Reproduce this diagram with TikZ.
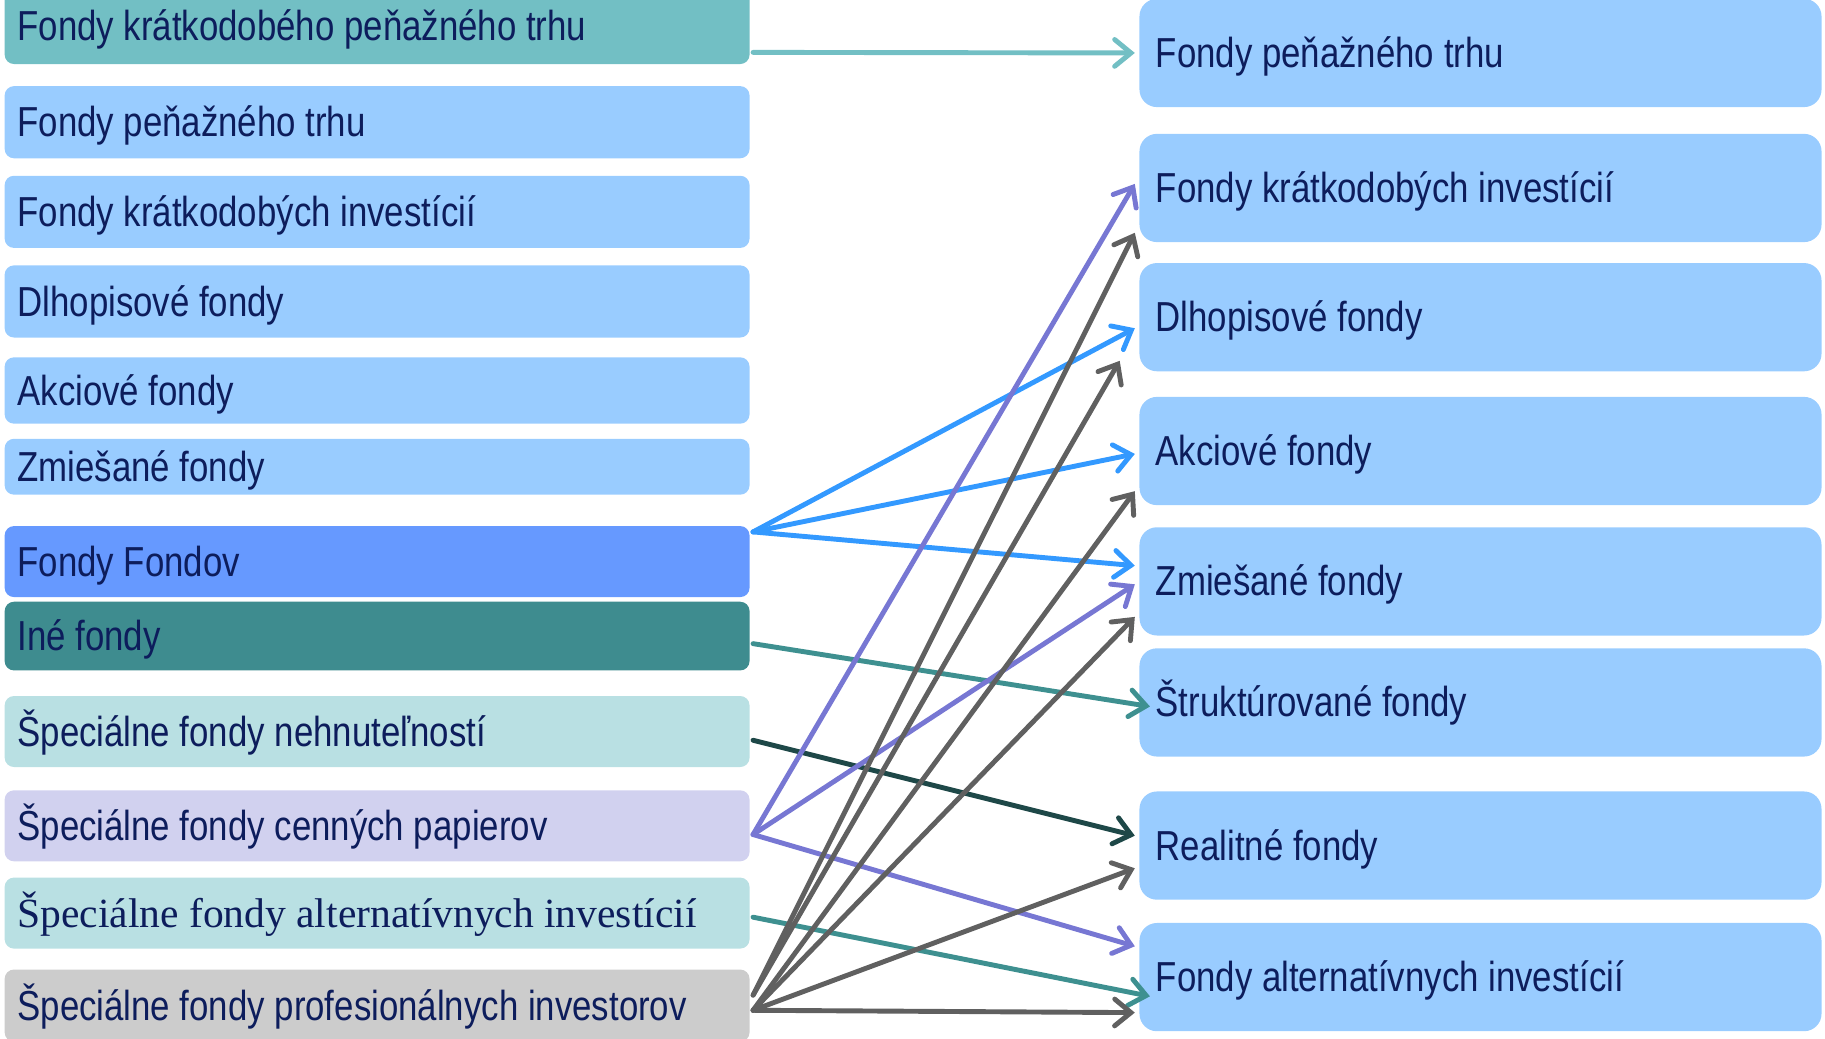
\documentclass[tikz,border=0pt]{standalone}
\usepackage{fontspec}
\setmainfont{Liberation Sans}[FakeStretch=0.83]
\newfontfamily\altSerif{Liberation Serif}
\usepackage{tikz}
\usetikzlibrary{arrows.meta, positioning}

\definecolor{navyText}{HTML}{0D1D5C}
\definecolor{tealLight}{HTML}{72BFC4}
\definecolor{skyBox}{HTML}{99CCFF}
\definecolor{fofBox}{HTML}{6699FF}
\definecolor{tealDark}{HTML}{3E8C8F}
\definecolor{mintBox}{HTML}{B9E0E3}
\definecolor{lilacBox}{HTML}{D1D1EF}
\definecolor{greyBox}{HTML}{CCCCCC}
\definecolor{blueLine}{HTML}{3399FF}
\definecolor{tealLine}{HTML}{3E9090}
\definecolor{slateLine}{HTML}{1E4848}
\definecolor{purpleLine}{HTML}{7777D3}
\definecolor{greyLine}{HTML}{606060}

\newcommand{\boxFont}{\fontsize{20.5pt}{24pt}\selectfont}
\newcommand{\serifText}{\altSerif\fontsize{20.3pt}{24pt}\selectfont}

\tikzstyle{recNode} = [rectangle, minimum height=1.24cm, text width=12.36cm, inner xsep=0.22cm, inner ysep=0pt, outer sep=0pt, text height=0.6cm, text depth=0.1cm, align=flush left, rounded corners=0.16cm, text=navyText, font=\boxFont]
\tikzstyle{recNodeS} = [recNode, fill=skyBox]
\tikzstyle{recNodeT} = [recNode, fill=tealLight]
\tikzstyle{recNodeF} = [recNode, fill=fofBox]
\tikzstyle{recNodeD} = [recNode, fill=tealDark]
\tikzstyle{recNodeM} = [recNode, fill=mintBox]
\tikzstyle{recNodeL} = [recNode, fill=lilacBox]
\tikzstyle{recNodeG} = [recNode, fill=greyBox]
\tikzstyle{outNode} = [recNode, fill=skyBox, minimum height=1.86cm, text width=11.16cm, inner xsep=0.28cm, rounded corners=0.3cm]
\tikzstyle{arrow} = [line width=2.4pt, line cap=round, -{Straight Barb[length=0.28cm, width=0.46cm, line cap=round]}]
\tikzstyle{arrowT} = [arrow, draw=tealLight]
\tikzstyle{arrowB} = [arrow, draw=blueLine]
\tikzstyle{arrowD} = [arrow, draw=tealLine]
\tikzstyle{arrowS} = [arrow, draw=slateLine]
\tikzstyle{arrowP} = [arrow, draw=purpleLine]
\tikzstyle{arrowG} = [arrow, draw=greyLine]

\begin{document}
\begin{tikzpicture}[x=1cm, y=1cm]
    \useasboundingbox (0,0) rectangle (31.36,-17.84);

    % left column
    \node (mmShort) [recNodeT, minimum height=1.30cm] at (6.48,-0.45) {Fondy krátkodobého peňažného trhu};
    \node (mm) [recNodeS, below=0.38cm of mmShort] {Fondy peňažného trhu};
    \node (shortInv) [recNodeS, below=0.30cm of mm] {Fondy krátkodobých investícií};
    \node (bond) [recNodeS, below=0.30cm of shortInv] {Dlhopisové fondy};
    \node (equity) [recNodeS, below=0.34cm of bond, minimum height=1.14cm] {Akciové fondy};
    \node (mixed) [recNodeS, below=0.26cm of equity, minimum height=0.96cm] {Zmiešané fondy};
    \node (fof) [recNodeF, below=0.54cm of mixed, minimum height=1.22cm] {Fondy Fondov};
    \node (other) [recNodeD, below=0.08cm of fof, minimum height=1.18cm] {Iné fondy};
    \node (spRe) [recNodeM, below=0.44cm of other, minimum height=1.22cm] {Špeciálne fondy nehnuteľností};
    \node (spSec) [recNodeL, below=0.40cm of spRe, minimum height=1.22cm] {Špeciálne fondy cenných papierov};
    \node (spAlt) [recNodeM, below=0.28cm of spSec, minimum height=1.22cm, font=\serifText] {Špeciálne fondy alternatívnych investícií};
    \node (spPro) [recNodeG, below=0.36cm of spAlt] {Špeciálne fondy profesionálnych investorov};

    % right column
    \node (outMm) [outNode] at (25.44,-0.91) {Fondy peňažného trhu};
    \node (outShort) [outNode, below=0.46cm of outMm] {Fondy krátkodobých investícií};
    \node (outBond) [outNode, below=0.36cm of outShort] {Dlhopisové fondy};
    \node (outEquity) [outNode, below=0.44cm of outBond] {Akciové fondy};
    \node (outMixed) [outNode, below=0.38cm of outEquity] {Zmiešané fondy};
    \node (outStruct) [outNode, below=0.22cm of outMixed] {Štruktúrované fondy};
    \node (outReal) [outNode, below=0.60cm of outStruct] {Realitné fondy};
    \node (outAlt) [outNode, below=0.40cm of outReal] {Fondy alternatívnych investícií};

    \draw [arrowT] ([xshift=0.06cm, yshift=-0.45cm]mmShort.east) -- ([xshift=-0.08cm]outMm.west);

    \draw [arrowB] ([xshift=0.06cm, yshift=0.51cm]fof.east) -- ([xshift=-0.08cm, yshift=-0.19cm]outBond.west);
    \draw [arrowB] ([xshift=0.06cm, yshift=0.51cm]fof.east) -- ([xshift=-0.08cm, yshift=-0.05cm]outEquity.west);
    \draw [arrowB] ([xshift=0.06cm, yshift=0.51cm]fof.east) -- ([xshift=-0.08cm, yshift=0.27cm]outMixed.west);

    \draw [arrowD] ([xshift=0.06cm, yshift=-0.13cm]other.east) -- ([xshift=0.18cm, yshift=-0.07cm]outStruct.west);
    \draw [arrowS] ([xshift=0.06cm, yshift=-0.15cm]spRe.east) -- ([xshift=-0.08cm, yshift=0.17cm]outReal.west);

    \draw [arrowP] ([xshift=0.06cm, yshift=-0.15cm]spSec.east) -- ([xshift=-0.08cm, yshift=0.07cm]outShort.west);
    \draw [arrowP] ([xshift=0.06cm, yshift=-0.15cm]spSec.east) -- ([xshift=-0.08cm, yshift=-0.05cm]outMixed.west);
    \draw [arrowP] ([xshift=0.06cm, yshift=-0.15cm]spSec.east) -- ([xshift=-0.08cm, yshift=0.53cm]outAlt.west);

    \draw [arrowD] ([xshift=0.06cm, yshift=-0.07cm]spAlt.east) -- ([xshift=0.18cm, yshift=-0.33cm]outAlt.west);

    \draw [arrowG] ([xshift=0.06cm, yshift=0.18cm]spPro.east) -- ([xshift=-0.08cm, yshift=-0.77cm]outShort.west);
    \draw [arrowG] ([xshift=0.06cm, yshift=0.18cm]spPro.east) -- ([xshift=-0.34cm, yshift=-0.75cm]outBond.west);
    \draw [arrowG] ([xshift=0.06cm, yshift=-0.08cm]spPro.east) -- ([xshift=-0.08cm, yshift=-0.69cm]outEquity.west);
    \draw [arrowG] ([xshift=0.06cm, yshift=-0.08cm]spPro.east) -- ([xshift=-0.08cm, yshift=-0.61cm]outMixed.west);
    \draw [arrowG] ([xshift=0.06cm, yshift=-0.08cm]spPro.east) -- ([xshift=-0.08cm, yshift=-0.39cm]outReal.west);
    \draw [arrowG] ([xshift=0.06cm, yshift=-0.08cm]spPro.east) -- ([xshift=-0.08cm, yshift=-0.61cm]outAlt.west);

\end{tikzpicture}
\end{document}
